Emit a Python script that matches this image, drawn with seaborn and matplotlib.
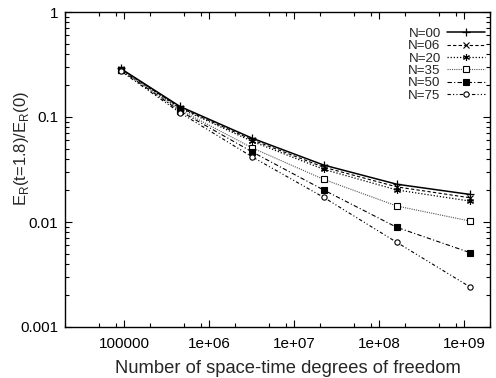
import matplotlib
matplotlib.use("Agg")
import matplotlib.pyplot as plt
import matplotlib.ticker as mticker
import seaborn as sns
import pandas as pd

# Degrees of freedom of each refinement level
dof = [9.0e4, 4.5e5, 3.2e6, 2.2e7, 1.6e8, 1.17e9]

# Relative energy E_R(t=1.8)/E_R(0) for each N
n00 = [0.290, 0.126, 0.0627, 0.0349, 0.0229, 0.0183]
n06 = [0.288, 0.123, 0.0605, 0.0333, 0.0216, 0.0170]
n20 = [0.286, 0.121, 0.0585, 0.0318, 0.0202, 0.0158]
n35 = [0.283, 0.117, 0.0507, 0.0255, 0.0142, 0.0102]
n50 = [0.280, 0.114, 0.0464, 0.0202, 0.0089, 0.0051]
n75 = [0.275, 0.110, 0.0416, 0.0172, 0.0064, 0.0024]

labels = ["N=00", "N=06", "N=20", "N=35", "N=50", "N=75"]
series = [n00, n06, n20, n35, n50, n75]

styles = [
    dict(color="black", linestyle="-", lw=1.1, marker="+", ms=5.5, mfc="black", mec="black", mew=0.9),
    dict(color="black", linestyle=(0, (3, 2)), lw=0.8, marker="x", ms=3.8, mfc="black", mec="black", mew=0.8),
    dict(color="black", linestyle=(0, (1, 1.5)), lw=0.9, marker=(6, 2, 0), ms=5, mfc="black", mec="black", mew=0.8),
    dict(color="#555555", linestyle=(0, (1, 1)), lw=0.8, marker="s", ms=4.2, mfc="white", mec="black", mew=0.8),
    dict(color="black", linestyle=(0, (4, 2, 1, 2)), lw=0.8, marker="s", ms=4.2, mfc="black", mec="black", mew=0.8),
    dict(color="black", linestyle=(0, (3, 2, 1, 2, 1, 2)), lw=0.8, marker="o", ms=3.8, mfc="white", mec="black", mew=0.8),
]

sns.set_theme(style="ticks")
plt.rcParams["font.family"] = ["Liberation Sans", "DejaVu Sans"]
plt.rcParams["mathtext.fontset"] = "custom"
plt.rcParams["mathtext.rm"] = "Liberation Sans"

fig = plt.figure(figsize=(4.96, 3.78), dpi=100)
ax = fig.add_axes([65 / 496, 1 - 327 / 378, (490 - 65) / 496, (327 - 12) / 378])

for lab, vals, st in zip(labels, series, styles):
    df = pd.DataFrame({"dof": dof, "E": vals})
    sns.lineplot(data=df, x="dof", y="E", ax=ax, label=lab, **st)

ax.set_xscale("log")
ax.set_yscale("log")
ax.set_xlim(2e4, 2e9)
ax.set_ylim(1e-3, 1)

ax.xaxis.set_major_locator(mticker.FixedLocator([1e5, 1e6, 1e7, 1e8, 1e9]))
ax.xaxis.set_major_formatter(mticker.FixedFormatter(["100000", "1e+06", "1e+07", "1e+08", "1e+09"]))
ax.xaxis.set_minor_locator(mticker.LogLocator(base=10, subs=(2, 5, 8), numticks=20))
ax.xaxis.set_minor_formatter(mticker.NullFormatter())
ax.yaxis.set_major_locator(mticker.FixedLocator([1e-3, 1e-2, 1e-1, 1]))
ax.yaxis.set_major_formatter(mticker.FixedFormatter(["0.001", "0.01", "0.1", "1"]))
ax.yaxis.set_minor_locator(mticker.LogLocator(base=10, subs=(2, 3, 4, 5, 6, 7, 8, 9), numticks=20))
ax.yaxis.set_minor_formatter(mticker.NullFormatter())

ax.tick_params(which="both", direction="in", top=True, right=True, colors="black",
               labelsize=11, width=0.8)
ax.tick_params(which="major", length=5)
ax.tick_params(axis="x", which="major", pad=7)
ax.tick_params(axis="y", which="major", pad=5)
ax.tick_params(which="minor", length=3)
for sp in ax.spines.values():
    sp.set_color("black")
    sp.set_linewidth(1.0)

ax.set_xlabel("Number of space-time degrees of freedom", fontsize=13.2)
ax.xaxis.set_label_coords(0.525, -0.105)
ax.set_ylabel(r"E$_\mathregular{R}$(t=1.8)/E$_\mathregular{R}$(0)", fontsize=12)
ax.yaxis.set_label_coords(-0.08, 0.565)

leg = ax.legend(loc="upper right", frameon=False, markerfirst=False, fontsize=9.6,
                handlelength=2.8, handletextpad=0.5, labelspacing=0.0,
                borderaxespad=0.0, bbox_to_anchor=(1.0, 0.967))

fig.savefig("out.png", dpi=100, facecolor="white")
